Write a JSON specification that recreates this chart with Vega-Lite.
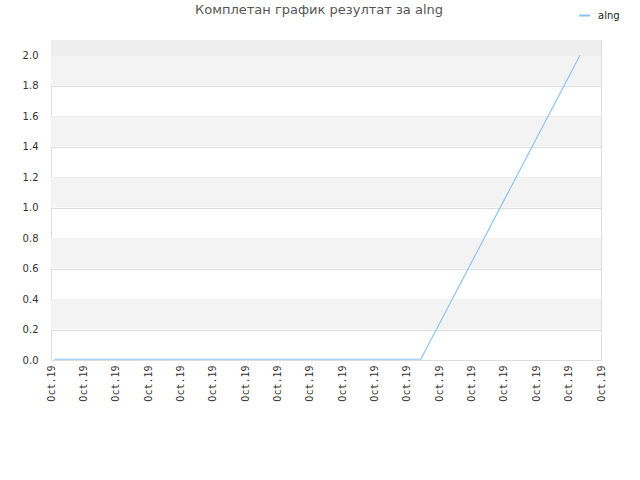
{
  "$schema": "https://vega.github.io/schema/vega-lite/v6.json",
  "autosize": {"type": "none"},
  "width": 550,
  "height": 320,
  "padding": {"left": 51, "top": 40, "right": 39, "bottom": 120},
  "background": "white",
  "title": {
    "text": "Комплетан график резултат за alng",
    "font": "DejaVu Sans",
    "fontSize": 13,
    "fontWeight": "normal",
    "color": "#555555",
    "anchor": "middle",
    "frame": "group",
    "dx": -7,
    "offset": -8
  },
  "config": {
    "view": {"stroke": "#dddddd", "strokeWidth": 1},
    "axis": {"labelFont": "DejaVu Sans", "labelFontSize": 10, "labelColor": "#333333", "domain": false, "ticks": false}
  },
  "datasets": {
    "series": [
      {"idx": 0.1, "value": 0.005, "name": "alng"},
      {"idx": 11.43, "value": 0.005, "name": "alng"},
      {"idx": 16.35, "value": 2.0, "name": "alng"}
    ],
    "bands": [
      {"y0": 0.2, "y1": 0.4, "shade": "a"},
      {"y0": 0.6, "y1": 0.8, "shade": "a"},
      {"y0": 1.0, "y1": 1.2, "shade": "a"},
      {"y0": 1.4, "y1": 1.6, "shade": "a"},
      {"y0": 1.8, "y1": 2.0, "shade": "a"},
      {"y0": 2.0, "y1": 2.1, "shade": "b"}
    ]
  },
  "layer": [
    {
      "data": {"name": "bands"},
      "mark": {"type": "rect", "x": 0, "x2": 550},
      "encoding": {
        "y": {
          "field": "y0",
          "type": "quantitative",
          "scale": {"domain": [0, 2.1], "nice": false, "zero": true},
          "axis": {
            "values": [0, 0.2, 0.4, 0.6, 0.8, 1.0, 1.2, 1.4, 1.6, 1.8, 2.0],
            "format": ".1f",
            "labelPadding": 13,
            "grid": true,
            "gridColor": "#dddddd",
            "gridWidth": 1,
            "title": null
          }
        },
        "y2": {"field": "y1"},
        "color": {"field": "shade", "type": "nominal", "scale": {"domain": ["a", "b"], "range": ["#f3f3f3", "#eeeeee"]}, "legend": null}
      }
    },
    {
      "data": {"name": "series"},
      "mark": {"type": "line", "strokeWidth": 1.2, "clip": true},
      "encoding": {
        "x": {
          "field": "idx",
          "type": "quantitative",
          "scale": {"domain": [0, 17], "nice": false, "zero": false},
          "axis": {
            "values": [0,1,2,3,4,5,6,7,8,9,10,11,12,13,14,15,16,17],
            "labelExpr": "'Oct.19'",
            "labelAngle": -90,
            "labelAlign": "right",
            "labelBaseline": "middle",
            "labelPadding": 5,
            "labelFont": "DejaVu Sans Mono",
            "labelFontSize": 10,
            "grid": false,
            "title": null
          }
        },
        "y": {
          "field": "value",
          "type": "quantitative",
          "scale": {"domain": [0, 2.1], "nice": false, "zero": true},
          "axis": {
            "values": [0, 0.2, 0.4, 0.6, 0.8, 1.0, 1.2, 1.4, 1.6, 1.8, 2.0],
            "format": ".1f",
            "labelPadding": 13,
            "grid": true,
            "gridColor": "#dddddd",
            "gridWidth": 1,
            "title": null
          }
        },
        "color": {
          "field": "name",
          "type": "nominal",
          "scale": {"range": ["#8fc3f5"]},
          "legend": {
            "title": null,
            "orient": "none",
            "legendX": 527,
            "legendY": -31,
            "symbolType": "stroke",
            "symbolSize": 120,
            "symbolStrokeWidth": 2,
            "labelFont": "DejaVu Sans",
            "labelFontSize": 10,
            "labelColor": "#222222",
            "labelOffset": 7
          }
        }
      }
    }
  ],
  "resolve": {"scale": {"color": "independent"}}
}
